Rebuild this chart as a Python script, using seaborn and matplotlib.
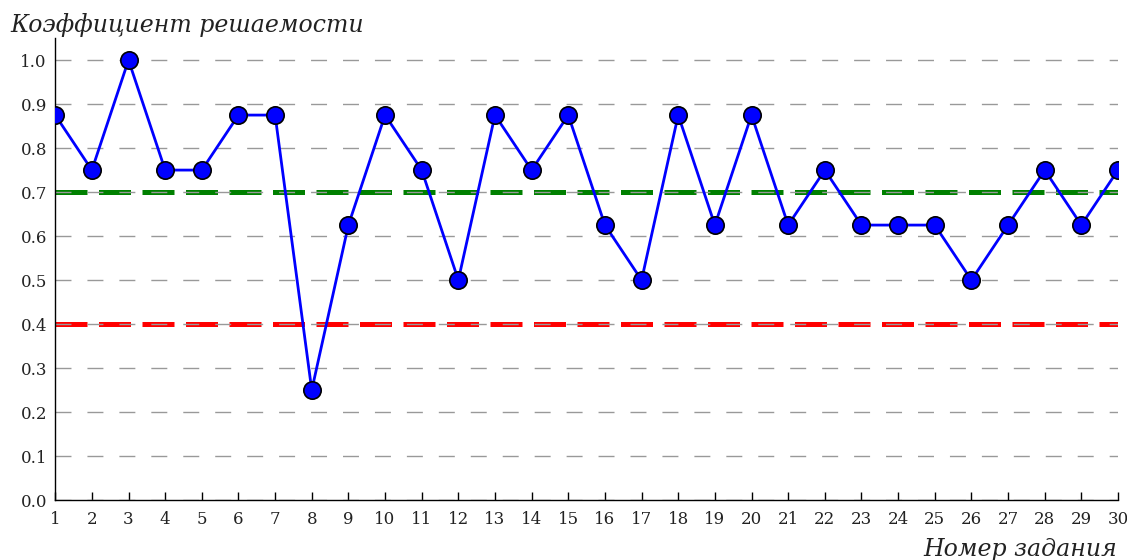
import numpy as np
import pandas as pd
import matplotlib
matplotlib.use('Agg')
import matplotlib.pyplot as plt
import seaborn as sns

tasks = list(range(1, 31))
coef = [0.875, 0.75, 1.0, 0.75, 0.75, 0.875, 0.875, 0.25, 0.625, 0.875,
        0.75, 0.5, 0.875, 0.75, 0.875, 0.625, 0.5, 0.875, 0.625, 0.875,
        0.625, 0.75, 0.625, 0.625, 0.625, 0.5, 0.625, 0.75, 0.625, 0.75]
good_level = 0.7
low_level = 0.4
y_ticks = [0.0, 0.1, 0.2, 0.3, 0.4, 0.5, 0.6, 0.7, 0.8, 0.9, 1.0]

df = pd.DataFrame({'task': tasks, 'coef': coef})

sns.set_style('white')
plt.rcParams['font.family'] = ['DejaVu Serif']

fig = plt.figure(figsize=(11.27, 5.6), dpi=100)
ax = fig.add_axes([0.049, 0.107, 0.943, 0.825])

# уровни 0.7 и 0.4
ax.axhline(good_level, color='green', lw=3.6, ls=(0, (6.4, 2.3)), zorder=0.4)
ax.axhline(low_level, color='red', lw=3.6, ls=(0, (6.4, 2.3)), zorder=0.4)

sns.lineplot(data=df, x='task', y='coef', ax=ax, color='blue', lw=2,
             marker='o', markersize=12.5, markerfacecolor='blue',
             markeredgecolor='black', markeredgewidth=1.2, zorder=3)

ax.set_xlim(1, 30)
ax.set_ylim(0, 1.05)
ax.set_xticks(tasks)
ax.set_yticks(y_ticks)
ax.set_yticklabels([f'{v:.1f}' for v in y_ticks])
ax.yaxis.grid(True, color='#999999', ls=(0, (11.5, 11.5)), lw=1)
ax.set_axisbelow(True)

for s in ['top', 'right']:
    ax.spines[s].set_visible(False)
for s in ['left', 'bottom']:
    ax.spines[s].set_color('black')
    ax.spines[s].set_linewidth(1)

ax.tick_params(axis='x', direction='in', length=6, width=1, bottom=True,
               labelsize=12, pad=8, colors='black')
ax.tick_params(axis='y', length=0, labelsize=12, pad=6, colors='black')
for t in ax.get_xticklabels() + ax.get_yticklabels():
    t.set_color('#222222')

ax.set_xlabel('')
ax.set_ylabel('')
fig.text(0.009, 0.955, 'Коэффициент решаемости', fontsize=17, style='italic',
         ha='left', va='center', color='#222222')
fig.text(0.991, 0.018, 'Номер задания', fontsize=17, style='italic',
         ha='right', va='center', color='#222222')

fig.savefig('out.png', dpi=100)
